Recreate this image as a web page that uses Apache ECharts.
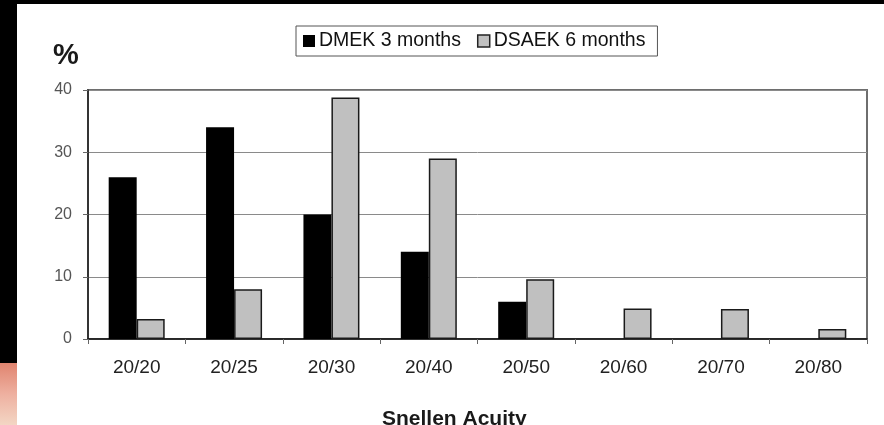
<!DOCTYPE html>
<html>
<head>
<meta charset="utf-8">
<script src="https://cdn.jsdelivr.net/npm/echarts@6/dist/echarts.min.js"></script>
<style>
  html, body { margin: 0; padding: 0; background: #fff; }
  #chart { width: 884px; height: 425px; }
</style>
</head>
<body>
<div id="chart"></div>
<script>
// Visual acuity distribution after keratoplasty
const categories = ['20/20', '20/25', '20/30', '20/40', '20/50', '20/60', '20/70', '20/80'];
const dmek3Months = [26, 34, 20, 14, 6, 0, 0, 0];
const dsaek6Months = [3.2, 8, 38.8, 29, 9.6, 4.9, 4.8, 1.6];
const yTicks = [0, 10, 20, 30, 40];

const chart = echarts.init(document.getElementById('chart'), null, { renderer: 'canvas' });
const font = '"Liberation Sans", Arial, sans-serif';

chart.setOption({
  backgroundColor: '#ffffff',
  animation: false,
  grid: {
    left: 88, right: 17, top: 90, bottom: 86,
    show: true, borderColor: '#6e6e6e', borderWidth: 2, backgroundColor: 'transparent'
  },
  legend: {
    left: 296, top: 26,
    icon: 'rect',
    itemWidth: 12, itemHeight: 12, itemGap: 16,
    padding: [5, 12, 5, 7],
    borderColor: '#555', borderWidth: 1,
    textStyle: { fontFamily: font, fontSize: 19.5, color: '#111', padding: [0, 0, 0, -1] },
    data: [
      { name: 'DMEK 3 months', itemStyle: { color: '#000', borderWidth: 0 } },
      { name: 'DSAEK 6 months', itemStyle: { color: '#c0c0c0', borderColor: '#222', borderWidth: 1.5 } }
    ]
  },
  xAxis: {
    type: 'category',
    data: categories,
    axisLine: { lineStyle: { color: '#111', width: 1.5 } },
    axisTick: { show: true, length: 5, inside: false, lineStyle: { color: '#666' } },
    axisLabel: { fontFamily: font, fontSize: 19, color: '#222', margin: 19 }
  },
  yAxis: {
    type: 'value',
    min: 0, max: 40, interval: 10,
    axisLine: { show: true, lineStyle: { color: '#222', width: 1.5 } },
    axisTick: { show: true, length: 5, lineStyle: { color: '#666' } },
    axisLabel: {
      fontFamily: font, fontSize: 16, color: '#555', margin: 16,
      formatter: v => (yTicks.includes(v) ? String(v) : '')
    },
    splitLine: { show: true, lineStyle: { color: '#8a8a8a', width: 1 } }
  },
  series: [
    {
      name: 'DMEK 3 months',
      type: 'bar',
      data: dmek3Months,
      barWidth: 28,
      barGap: '0%',
      itemStyle: { color: '#000' }
    },
    {
      name: 'DSAEK 6 months',
      type: 'bar',
      data: dsaek6Months,
      barWidth: 28,
      itemStyle: { color: '#c0c0c0', borderColor: '#1a1a1a', borderWidth: 1.5 }
    }
  ],
  graphic: [
    // dark frame around the figure
    { type: 'rect', left: 0, top: 0, shape: { width: 884, height: 4 }, style: { fill: '#000' }, silent: true },
    { type: 'rect', left: 0, top: 0, shape: { width: 17, height: 363 }, style: { fill: '#000' }, silent: true },
    {
      type: 'rect', left: 0, top: 363, shape: { width: 17, height: 62 }, silent: true,
      style: {
        fill: new echarts.graphic.LinearGradient(0, 0, 0, 1, [
          { offset: 0, color: '#e0846f' },
          { offset: 0.5, color: '#eeb0a0' },
          { offset: 1, color: '#f3d6c4' }
        ])
      }
    },
    {
      type: 'text', left: 53, top: 41, silent: true,
      style: { text: '%', font: 'bold 29px ' + font, fill: '#1a1a1a' }
    },
    {
      type: 'text', left: 382, top: 409, silent: true,
      style: { text: 'Snellen Acuity', font: 'bold 21px ' + font, fill: '#1a1a1a' }
    }
  ]
});
</script>
</body>
</html>
